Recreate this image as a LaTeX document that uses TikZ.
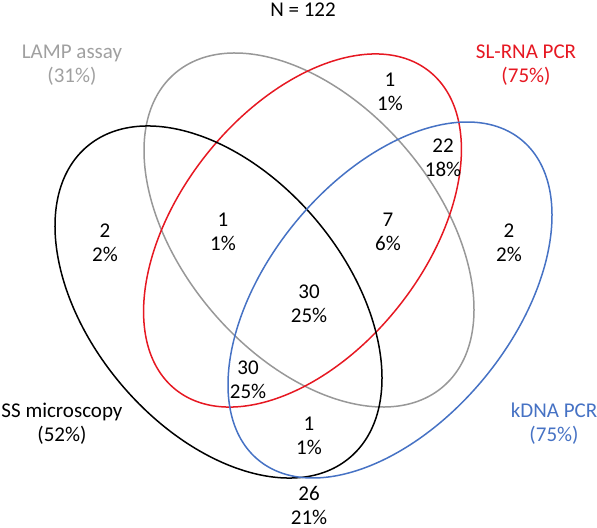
\documentclass[tikz,border=0pt]{standalone}
\usepackage{fontspec}
\setmainfont{Carlito}
\usetikzlibrary{shapes.geometric}
\definecolor{vgray}{RGB}{152,152,152}
\definecolor{vgraytext}{RGB}{160,160,160}
\definecolor{vred}{RGB}{230,24,34}
\definecolor{vblue}{RGB}{70,114,196}
\begin{document}
\begin{tikzpicture}[x=1bp,y=1bp,
  setell/.style={ellipse, draw, line width=1.5bp, inner sep=0pt, outer sep=0pt},
  lbl/.style={font=\fontsize{21bp}{24bp}\selectfont, align=center, inner sep=0pt},
  cnt/.style={font=\fontsize{21bp}{24bp}\selectfont, align=center, inner sep=0pt}]
\useasboundingbox (0,0) rectangle (597,-528);
\node[setell, draw=vgray, minimum width=412.4bp, minimum height=253.2bp, rotate=-49.45] (lamp) at (309,-230) {};
\node[setell, draw=vred, minimum width=407bp, minimum height=245bp, rotate=51.46] (slrna) at (302.5,-230.5) {};
\node[setell, draw=black, minimum width=407.2bp, minimum height=255bp, rotate=-49.85] (ss) at (218.5,-302) {};
\node[setell, draw=vblue, minimum width=414.4bp, minimum height=244.8bp, rotate=50.6] (kdna) at (390,-300) {};
% title and set labels
\node[lbl] (title) at (303,-10) {N = 122};
\node[lbl, text=vgraytext] (lamplbl) at (72,-65.5) {LAMP assay\\(31\%)};
\node[lbl, text=vred] (slrnalbl) at (526,-65) {SL-RNA PCR\\(75\%)};
\node[lbl] (sslbl) at (62,-423.5) {SS microscopy\\(52\%)};
\node[lbl, text=vblue] (kdnalbl) at (554,-423.5) {kDNA PCR\\(75\%)};
% counts
\node[cnt] (c1) at (390,-91.5) {1\\1\%};
\node[cnt] (c2) at (443,-158) {22\\18\%};
\node[cnt] (c3) at (105,-242.5) {2\\2\%};
\node[cnt] (c4) at (509,-242.5) {2\\2\%};
\node[cnt] (c5) at (223,-231.5) {1\\1\%};
\node[cnt] (c6) at (388,-231.5) {7\\6\%};
\node[cnt] (c7) at (309,-303.5) {30\\25\%};
\node[cnt] (c8) at (248,-380) {30\\25\%};
\node[cnt] (c9) at (309,-436) {1\\1\%};
\node[cnt] (c10) at (309,-505) {26\\21\%};
\end{tikzpicture}
\end{document}
